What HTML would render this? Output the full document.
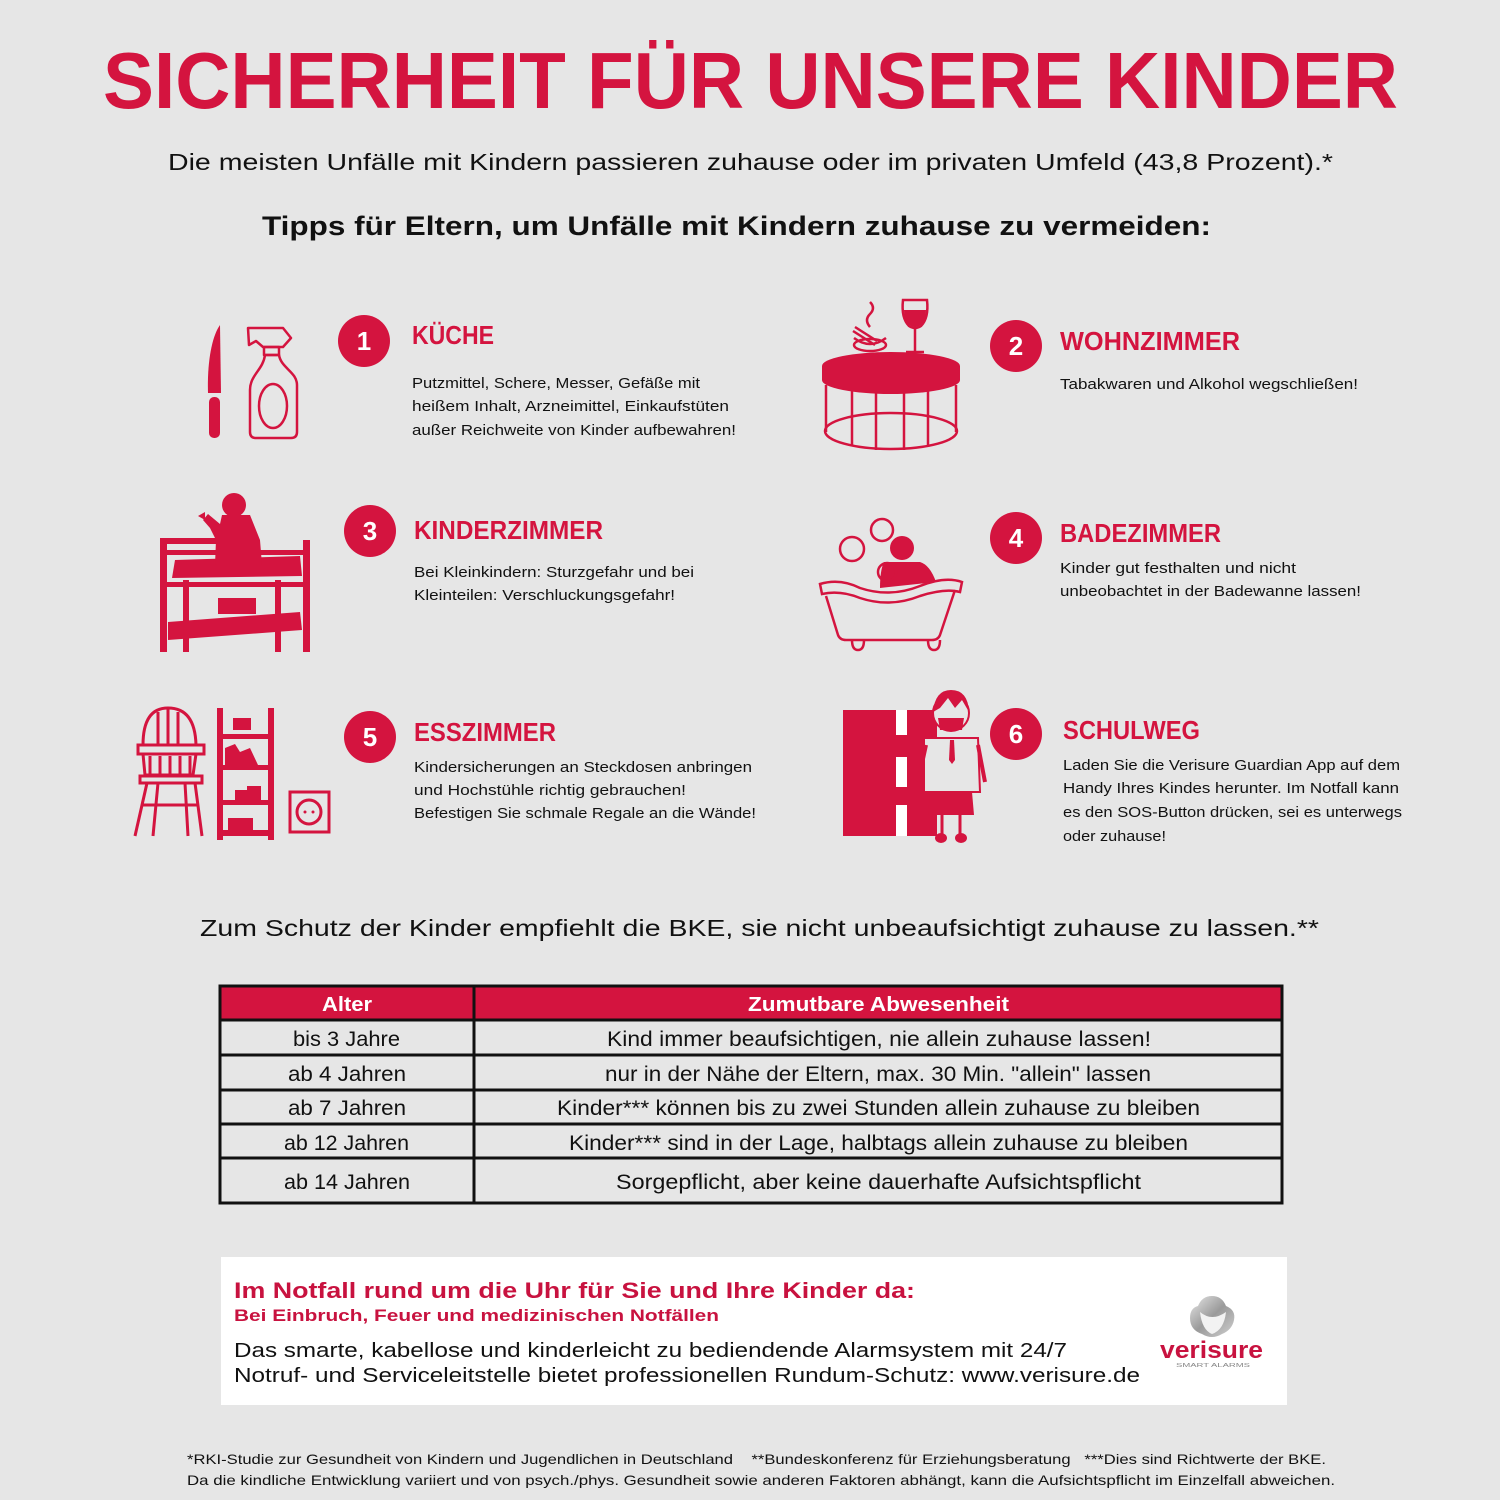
<!DOCTYPE html>
<html><head><meta charset="utf-8"><style>
html,body{margin:0;padding:0;background:#e6e6e6;}
svg{display:block;}
text{font-family:"Liberation Sans",sans-serif;}
.pre{white-space:pre;}
</style></head><body>
<svg width="1500" height="1500" viewBox="0 0 1500 1500" xmlns="http://www.w3.org/2000/svg">
<rect width="1500" height="1500" fill="#e6e6e6"/>
<defs>
<linearGradient id="g1" x1="0" y1="0" x2="1" y2="1"><stop offset="0" stop-color="#e8e8e8"/><stop offset="0.5" stop-color="#9a9a9a"/><stop offset="1" stop-color="#d0d0d0"/></linearGradient>
</defs>
<!-- Title -->
<text x="103" y="108" font-size="80" font-weight="bold" fill="#d4143f" textLength="1295" lengthAdjust="spacingAndGlyphs">SICHERHEIT FÜR UNSERE KINDER</text>
<text x="168" y="170" font-size="23" fill="#111" textLength="1165" lengthAdjust="spacingAndGlyphs">Die meisten Unfälle mit Kindern passieren zuhause oder im privaten Umfeld (43,8 Prozent).*</text>
<text x="262" y="235" font-size="27" font-weight="bold" fill="#111" textLength="949" lengthAdjust="spacingAndGlyphs">Tipps für Eltern, um Unfälle mit Kindern zuhause zu vermeiden:</text>

<!-- Circles -->
<g fill="#d4143f">
<circle cx="364" cy="341" r="26"/><circle cx="1016" cy="346" r="26"/>
<circle cx="370" cy="531" r="26"/><circle cx="1016" cy="538" r="26"/>
<circle cx="370" cy="737" r="26"/><circle cx="1016" cy="734" r="26"/>
</g>
<g fill="#fff" font-size="26" font-weight="bold" text-anchor="middle">
<text x="364" y="350">1</text><text x="1016" y="355">2</text>
<text x="370" y="540">3</text><text x="1016" y="547">4</text>
<text x="370" y="746">5</text><text x="1016" y="743">6</text>
</g>
<!-- Headings -->
<g fill="#d4143f" font-size="26" font-weight="bold">
<text x="412" y="344" textLength="82" lengthAdjust="spacingAndGlyphs">KÜCHE</text>
<text x="1060" y="350" textLength="180" lengthAdjust="spacingAndGlyphs">WOHNZIMMER</text>
<text x="414" y="539" textLength="189" lengthAdjust="spacingAndGlyphs">KINDERZIMMER</text>
<text x="1060" y="542" textLength="161" lengthAdjust="spacingAndGlyphs">BADEZIMMER</text>
<text x="414" y="741" textLength="142" lengthAdjust="spacingAndGlyphs">ESSZIMMER</text>
<text x="1063" y="739" textLength="137" lengthAdjust="spacingAndGlyphs">SCHULWEG</text>
</g>
<!-- Bodies -->
<g fill="#111" font-size="15">
<text x="412" y="388" textLength="288" lengthAdjust="spacingAndGlyphs">Putzmittel, Schere, Messer, Gefäße mit</text>
<text x="412" y="411" textLength="317" lengthAdjust="spacingAndGlyphs">heißem Inhalt, Arzneimittel, Einkaufstüten</text>
<text x="412" y="435" textLength="324" lengthAdjust="spacingAndGlyphs">außer Reichweite von Kinder aufbewahren!</text>
<text x="1060" y="389" textLength="298" lengthAdjust="spacingAndGlyphs">Tabakwaren und Alkohol wegschließen!</text>
<text x="414" y="577" textLength="280" lengthAdjust="spacingAndGlyphs">Bei Kleinkindern: Sturzgefahr und bei</text>
<text x="414" y="600" textLength="261" lengthAdjust="spacingAndGlyphs">Kleinteilen: Verschluckungsgefahr!</text>
<text x="1060" y="573" textLength="236" lengthAdjust="spacingAndGlyphs">Kinder gut festhalten und nicht</text>
<text x="1060" y="596" textLength="301" lengthAdjust="spacingAndGlyphs">unbeobachtet in der Badewanne lassen!</text>
<text x="414" y="772" textLength="338" lengthAdjust="spacingAndGlyphs">Kindersicherungen an Steckdosen anbringen</text>
<text x="414" y="795" textLength="272" lengthAdjust="spacingAndGlyphs">und Hochstühle richtig gebrauchen!</text>
<text x="414" y="818" textLength="342" lengthAdjust="spacingAndGlyphs">Befestigen Sie schmale Regale an die Wände!</text>
<text x="1063" y="770" textLength="337" lengthAdjust="spacingAndGlyphs">Laden Sie die Verisure Guardian App auf dem</text>
<text x="1063" y="793" textLength="336" lengthAdjust="spacingAndGlyphs">Handy Ihres Kindes herunter. Im Notfall kann</text>
<text x="1063" y="817" textLength="339" lengthAdjust="spacingAndGlyphs">es den SOS-Button drücken, sei es unterwegs</text>
<text x="1063" y="841" textLength="103" lengthAdjust="spacingAndGlyphs">oder zuhause!</text>
</g>

<!-- Icon 1: knife + spray -->
<g fill="#d4143f">
<path d="M220,325 C212,336 207,362 208,393 L221,393 Z"/>
<rect x="209" y="397" width="11" height="41" rx="5"/>
</g>
<g fill="none" stroke="#d4143f" stroke-width="2.5" stroke-linejoin="round">
<path d="M248,328 L283,328 L291,338 L283,347 L263,347 L256,341 L249,345 Z"/>
<rect x="264" y="347" width="15" height="8"/>
<path d="M265,355 C263,370 250,375 250,390 L250,432 Q250,438 256,438 L291,438 Q297,438 297,432 L297,385 C297,372 281,368 279,355 Z"/>
<ellipse cx="273" cy="406" rx="14" ry="22"/>
</g>

<!-- Icon 2: table -->
<g fill="#d4143f">
<path d="M822,366 A69,14 0 0 1 960,366 L960,380 A69,14 0 0 1 822,380 Z"/>
<path d="M903,300 L927,300 Q929,318 921,326 Q915,330 909,326 Q901,318 903,300 Z" fill="none" stroke="#d4143f" stroke-width="2.5"/>
<path d="M904,310 L926,310 Q926,322 919,326 Q915,328 911,326 Q904,322 904,310 Z"/>
</g>
<g fill="none" stroke="#d4143f" stroke-width="2.5">
<line x1="915" y1="326" x2="915" y2="351"/><line x1="906" y1="352" x2="924" y2="352"/>
<ellipse cx="870" cy="345" rx="16" ry="6"/>
<path d="M854,338 Q870,350 886,338"/>
<path d="M855,327 L877,341 M853,331 L875,345"/>
<path d="M870,327 Q864,320 870,314 Q876,308 870,302"/>
<line x1="826" y1="385" x2="826" y2="432"/><line x1="852" y1="390" x2="852" y2="446"/>
<line x1="876" y1="392" x2="876" y2="450"/><line x1="904" y1="392" x2="904" y2="450"/>
<line x1="928" y1="390" x2="928" y2="447"/><line x1="956" y1="385" x2="956" y2="432"/>
<ellipse cx="891" cy="431" rx="66" ry="18"/>
</g>

<!-- Icon 3: changing table with baby -->
<g fill="#d4143f">
<rect x="160" y="540" width="7" height="112"/><rect x="303" y="540" width="7" height="112"/>
<rect x="183" y="580" width="6" height="72"/><rect x="275" y="580" width="6" height="72"/>
<rect x="160" y="538" width="75" height="6"/>
<rect x="160" y="550" width="150" height="5"/>
<path d="M175,560 L300,556 L302,576 L172,578 Z"/>
<rect x="162" y="582" width="146" height="5"/>
<path d="M168,622 L300,612 L302,630 L168,640 Z"/>
<rect x="218" y="598" width="38" height="16"/>
<circle cx="234" cy="505" r="12"/>
<path d="M222,515 L250,515 L260,540 L262,565 L215,565 L216,540 L210,528 L203,520 L208,514 L220,524 Z"/>
<path d="M205,520 L198,516 L205,512 Z"/>
</g>

<!-- Icon 4: bath -->
<g fill="#d4143f">
<circle cx="902" cy="548" r="12"/>
<path d="M884,562 L920,562 Q930,565 936,582 L880,588 Q880,570 884,562 Z"/>
</g>
<g fill="none" stroke="#d4143f" stroke-width="2.5">
<circle cx="852" cy="549" r="12"/><circle cx="882" cy="530" r="11"/><circle cx="887" cy="572" r="9"/>
<path d="M820,584 Q840,578 860,588 Q890,598 920,586 Q945,576 962,582 L960,592 Q945,588 920,596 Q890,608 860,598 Q840,590 822,594 Z" fill="#e6e6e6"/>
<path d="M826,596 L838,635 Q840,640 846,640 L932,640 Q938,640 940,635 L955,590"/>
<path d="M852,640 Q852,650 858,650 Q864,650 864,640 M928,640 Q928,650 934,650 Q940,650 940,640"/>
</g>

<!-- Icon 5: high chair, shelf, socket -->
<g fill="none" stroke="#d4143f" stroke-width="3">
<path d="M143,745 Q143,708 168,708 Q195,708 196,745"/>
<line x1="158" y1="712" x2="158" y2="745"/><line x1="168" y1="709" x2="168" y2="745"/><line x1="178" y1="712" x2="178" y2="745"/>
<rect x="138" y="745" width="66" height="9"/>
<path d="M143,754 L145,775 L193,775 L196,754"/>
<line x1="150" y1="756" x2="150" y2="774"/><line x1="160" y1="756" x2="160" y2="774"/><line x1="170" y1="756" x2="170" y2="774"/><line x1="180" y1="756" x2="180" y2="774"/><line x1="190" y1="756" x2="190" y2="774"/>
<rect x="140" y="776" width="62" height="7"/>
<path d="M147,783 L135,836 M195,783 L202,836 M158,783 L153,836 M185,783 L188,836"/>
<line x1="142" y1="805" x2="198" y2="805"/>
<rect x="290" y="792" width="39" height="40"/>
<circle cx="309" cy="812" r="12"/>
</g>
<g fill="#d4143f">
<rect x="217" y="708" width="6" height="132"/><rect x="268" y="708" width="6" height="132"/>
<rect x="217" y="734" width="57" height="5"/><rect x="217" y="765" width="57" height="5"/>
<rect x="217" y="800" width="57" height="5"/><rect x="217" y="830" width="57" height="6"/>
<rect x="233" y="718" width="18" height="12"/>
<path d="M225,765 L225,748 L235,744 L240,752 L250,748 L258,765 Z"/>
<rect x="235" y="790" width="20" height="10"/><rect x="247" y="786" width="14" height="14"/>
<rect x="228" y="818" width="25" height="12"/>
</g>
<circle cx="305" cy="812" r="1.5" fill="#d4143f"/><circle cx="313" cy="812" r="1.5" fill="#d4143f"/>

<!-- Icon 6: road + child -->
<rect x="843" y="710" width="94" height="126" fill="#d4143f"/>
<g fill="#fff">
<rect x="896" y="710" width="11" height="25"/>
<rect x="896" y="757" width="11" height="30"/>
<rect x="896" y="805" width="11" height="31"/>
</g>
<g>
<path d="M924,738 L978,738 L980,792 L924,792 Z" fill="#e6e6e6" stroke="#d4143f" stroke-width="2"/>
<path d="M930,792 L972,792 L974,815 L928,815 Z" fill="#d4143f"/>
<circle cx="951" cy="713" r="18" fill="#e6e6e6" stroke="#d4143f" stroke-width="2"/>
<path d="M933,712 Q935,690 951,690 Q968,690 969,712 L962,700 L955,708 L948,698 L940,708 Z" fill="#d4143f"/>
<path d="M938,718 L964,718 L962,730 L940,730 Z" fill="#d4143f"/>
<path d="M950,740 L954,740 L955,760 L952,764 L949,760 Z" fill="#d4143f"/>
<path d="M926,745 L918,782 M978,745 L985,782" stroke="#d4143f" stroke-width="4" fill="none"/>
<line x1="942" y1="815" x2="942" y2="835" stroke="#d4143f" stroke-width="3"/>
<line x1="960" y1="815" x2="960" y2="835" stroke="#d4143f" stroke-width="3"/>
<ellipse cx="941" cy="838" rx="6" ry="5" fill="#d4143f"/><ellipse cx="961" cy="838" rx="6" ry="5" fill="#d4143f"/>
</g>

<!-- Zum Schutz -->
<text x="200" y="936" font-size="23" fill="#111" textLength="1119" lengthAdjust="spacingAndGlyphs">Zum Schutz der Kinder empfiehlt die BKE, sie nicht unbeaufsichtigt zuhause zu lassen.**</text>

<!-- Table -->
<rect x="220" y="986" width="1062" height="34" fill="#d4143f"/>
<g fill="none" stroke="#111" stroke-width="3">
<rect x="220" y="986" width="1062" height="217"/>
<line x1="474" y1="986" x2="474" y2="1203"/>
<line x1="220" y1="1020" x2="1282" y2="1020"/>
<line x1="220" y1="1055" x2="1282" y2="1055"/>
<line x1="220" y1="1090" x2="1282" y2="1090"/>
<line x1="220" y1="1124" x2="1282" y2="1124"/>
<line x1="220" y1="1158" x2="1282" y2="1158"/>
</g>
<g fill="#fff" font-size="20" font-weight="bold">
<text x="322" y="1011" textLength="50" lengthAdjust="spacingAndGlyphs">Alter</text>
<text x="748" y="1011" textLength="261" lengthAdjust="spacingAndGlyphs">Zumutbare Abwesenheit</text>
</g>
<g fill="#111" font-size="21">
<text x="293" y="1046" textLength="107" lengthAdjust="spacingAndGlyphs">bis 3 Jahre</text>
<text x="607" y="1046" textLength="544" lengthAdjust="spacingAndGlyphs">Kind immer beaufsichtigen, nie allein zuhause lassen!</text>
<text x="288" y="1081" textLength="118" lengthAdjust="spacingAndGlyphs">ab 4 Jahren</text>
<text x="605" y="1081" textLength="546" lengthAdjust="spacingAndGlyphs">nur in der Nähe der Eltern, max. 30 Min. "allein" lassen</text>
<text x="288" y="1115" textLength="118" lengthAdjust="spacingAndGlyphs">ab 7 Jahren</text>
<text x="557" y="1115" textLength="643" lengthAdjust="spacingAndGlyphs">Kinder*** können bis zu zwei Stunden allein zuhause zu bleiben</text>
<text x="284" y="1150" textLength="125" lengthAdjust="spacingAndGlyphs">ab 12 Jahren</text>
<text x="569" y="1150" textLength="619" lengthAdjust="spacingAndGlyphs">Kinder*** sind in der Lage, halbtags allein zuhause zu bleiben</text>
<text x="284" y="1189" textLength="126" lengthAdjust="spacingAndGlyphs">ab 14 Jahren</text>
<text x="616" y="1189" textLength="525" lengthAdjust="spacingAndGlyphs">Sorgepflicht, aber keine dauerhafte Aufsichtspflicht</text>
</g>

<!-- White box -->
<rect x="221" y="1257" width="1066" height="148" fill="#fff"/>
<text x="234" y="1298" font-size="22" font-weight="bold" fill="#c8123f" textLength="681" lengthAdjust="spacingAndGlyphs">Im Notfall rund um die Uhr für Sie und Ihre Kinder da:</text>
<text x="234" y="1321" font-size="17" font-weight="bold" fill="#c8123f" textLength="485" lengthAdjust="spacingAndGlyphs">Bei Einbruch, Feuer und medizinischen Notfällen</text>
<text x="234" y="1357" font-size="20" fill="#111" textLength="833" lengthAdjust="spacingAndGlyphs">Das smarte, kabellose und kinderleicht zu bediendende Alarmsystem mit 24/7</text>
<text x="234" y="1382" font-size="20" fill="#111" textLength="906" lengthAdjust="spacingAndGlyphs">Notruf- und Serviceleitstelle bietet professionellen Rundum-Schutz: www.verisure.de</text>
<!-- verisure logo -->
<path d="M1212,1296 Q1222,1296 1226,1306 Q1236,1310 1234,1320 Q1232,1330 1222,1334 Q1212,1340 1202,1334 Q1190,1330 1190,1318 Q1190,1308 1198,1306 Q1202,1296 1212,1296 Z" fill="url(#g1)"/>
<path d="M1200,1312 Q1212,1322 1226,1312 Q1224,1330 1212,1334 Q1202,1330 1200,1312 Z" fill="#f2f2f2"/>
<text x="1160" y="1358" font-size="24" font-weight="bold" fill="#c8123f" textLength="103" lengthAdjust="spacingAndGlyphs">verisure</text>
<text x="1176" y="1367" font-size="5" fill="#888" textLength="74" lengthAdjust="spacingAndGlyphs">SMART ALARMS</text>

<!-- Footer -->
<text class="pre" x="187" y="1464" font-size="14" fill="#111" textLength="1139" lengthAdjust="spacingAndGlyphs">*RKI-Studie zur Gesundheit von Kindern und Jugendlichen in Deutschland    **Bundeskonferenz für Erziehungsberatung   ***Dies sind Richtwerte der BKE.</text>
<text x="187" y="1485" font-size="14" fill="#111" textLength="1148" lengthAdjust="spacingAndGlyphs">Da die kindliche Entwicklung variiert und von psych./phys. Gesundheit sowie anderen Faktoren abhängt, kann die Aufsichtspflicht im Einzelfall abweichen.</text>
</svg>
</body></html>
